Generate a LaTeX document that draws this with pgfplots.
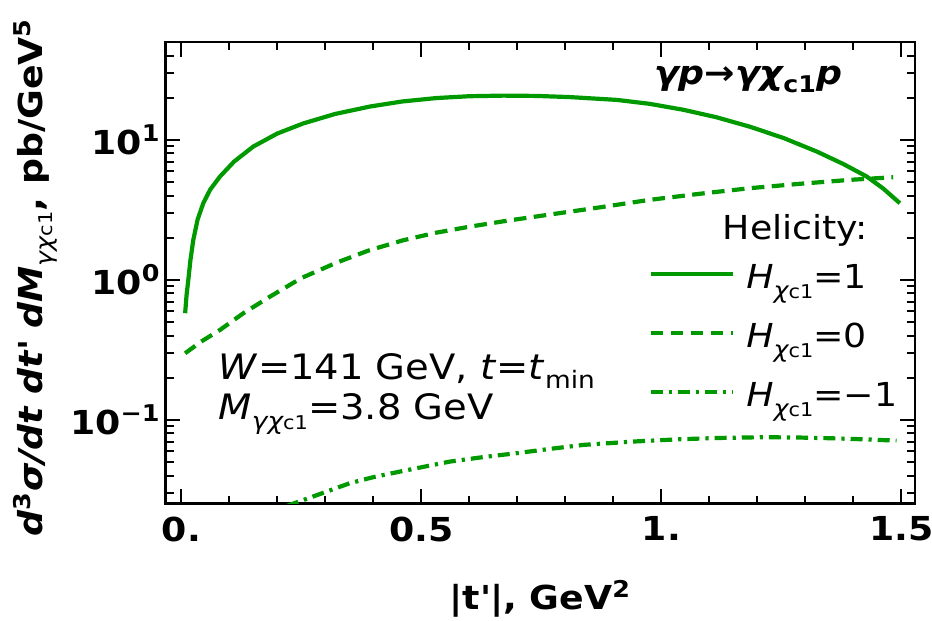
\documentclass[border=0pt]{standalone}
\usepackage{fontspec}
\setmainfont{DejaVu Sans}[FakeStretch=1.1,
  BoldFont={DejaVu Sans Bold}, ItalicFont={DejaVu Sans Oblique},
  BoldItalicFont={DejaVu Sans Bold Oblique}]
\usepackage{pgfplots}
\pgfplotsset{compat=1.18}
\definecolor{hgreen}{HTML}{009A00}
\newcommand{\fs}[1]{\fontsize{#1}{#1}\selectfont}
% chi_c1 as a lowered subscript
\newcommand{\chisub}{\raisebox{-0.3em}{\fs{11.5}\itshape χ\fs{9.5}\upshape c1}}

\begin{document}
\begin{tikzpicture}
\begin{axis}[
  name=ax,
  scale only axis, width=374.65pt, height=230.85pt,
  ymode=log, xmin=-0.0325, xmax=1.5285, ymin=0.0252, ymax=50,
  xtick={0,0.5,1,1.5}, xticklabels={0.,0.5,1.,1.5},
  minor x tick num=4,
  ytick={0.1,1,10},
  yticklabels={10\textsuperscript{−1},10\textsuperscript{0},10\textsuperscript{1}},
  minor ytick={0.03,0.04,0.05,0.06,0.07,0.08,0.09,0.2,0.3,0.4,0.5,0.6,0.7,0.8,0.9,2,3,4,5,6,7,8,9,20,30,40},
  tick align=inside, tick pos=both,
  major tick length=7.3pt, minor tick length=4pt,
  every tick/.style={black, line width=1pt},
  axis line style={line width=1.3pt},
  ticklabel style={font=\fs{16.5}\bfseries},
  xticklabel style={yshift=-3pt},
  yticklabel style={xshift=1pt},
  xlabel={|t\textquotesingle|, GeV\textsuperscript{2}},
  xlabel style={at={(rel axis cs:0.5,0)}, anchor=base, yshift=-53pt, font=\fs{16.5}\bfseries},
  ylabel={{\bfseries\itshape d\textsuperscript{\upshape 3}σ/dt dt\textquotesingle\ dM}\raisebox{-0.3em}{\fs{11.5}\itshape γχ\fs{9.5}\upshape c1}{\bfseries, pb/GeV\textsuperscript{5}}},
  ylabel style={at={(axis description cs:-0.1639,0.49)}, anchor=base, rotate=0, font=\fs{16.5}},
  legend style={draw=none, fill=none, at={(rel axis cs:0.6437,0.519)}, anchor=north west,
    inner sep=0pt, row sep=13.5pt, column sep=5.9pt, font=\fs{16.5},
    nodes={inner sep=0pt, text height=12pt, text depth=4pt}, cells={anchor=west}},
  legend image code/.code={\draw[#1] (0pt,3.2pt) -- (41pt,3.2pt);},
]
\addplot[hgreen, line width=2.1pt] coordinates {
(0.008,0.578) (0.011,0.78) (0.0146,1.0) (0.019,1.38) (0.025,1.93) (0.034,2.7)
(0.0458,3.53) (0.06,4.4) (0.0806,5.47) (0.11,7.0) (0.15,8.96) (0.2,11.1)
(0.254,13.1) (0.32,15.3) (0.393,17.3) (0.46,18.8) (0.532,19.9) (0.6,20.5)
(0.671,20.7) (0.74,20.6) (0.81,20.2) (0.907,19.3) (0.975,18.1) (1.046,16.4)
(1.115,14.5) (1.185,12.4) (1.255,10.3) (1.324,8.25) (1.38,6.7) (1.428,5.47)
(1.462,4.5) (1.497,3.53)};
\addlegendentry{\textit{H}\chisub=1}
\addplot[hgreen, line width=2.1pt, dash pattern=on 6.3pt off 3.7pt] coordinates {
(0.008,0.299) (0.04,0.36) (0.081,0.44) (0.13,0.58) (0.185,0.76) (0.25,1.03)
(0.324,1.33) (0.39,1.62) (0.4625,1.92) (0.53,2.17) (0.601,2.40) (0.68,2.65)
(0.768,2.93) (0.86,3.25) (0.976,3.73) (1.08,4.12) (1.185,4.52) (1.29,4.86)
(1.393,5.18) (1.483,5.41)};
\addlegendentry{\textit{H}\chisub=0}
\addplot[hgreen, line width=2.1pt, dash pattern=on 6pt off 3pt on 1.6pt off 3pt] coordinates {
(0.22,0.0243) (0.265,0.0276) (0.31,0.0314) (0.351,0.0353) (0.40,0.0390)
(0.455,0.0427) (0.51,0.0466) (0.56,0.0504) (0.63,0.0543) (0.698,0.0578)
(0.77,0.0622) (0.838,0.0663) (0.94,0.0700) (1.04,0.0728) (1.12,0.0743)
(1.21,0.0752) (1.28,0.0749) (1.35,0.0740) (1.42,0.0727) (1.49,0.0711)};
\addlegendentry{\textit{H}\chisub=−1}
\node[anchor=base east, font=\fs{16.5}\bfseries\itshape] at (rel axis cs:0.912,0.908)
  {γp→γχ\raisebox{-0.25em}{\fs{11.5}\upshape c1}p};
\node[anchor=base east, font=\fs{16.5}] at (rel axis cs:0.9466,0.573) {Helicity:};
\node[anchor=base west, font=\fs{17.5}] at (rel axis cs:0.0614,0.268)
  {\textit{W}=141 GeV, \textit{t}=\textit{t}\raisebox{-0.25em}{\fs{12}min}};
\node[anchor=base west, font=\fs{17.5}] at (rel axis cs:0.0614,0.183)
  {\textit{M}\raisebox{-0.3em}{\fs{12}\itshape γχ\fs{9.5}\upshape c1}=3.8 GeV};
\end{axis}
\pgfresetboundingbox
\path ([xshift=-82.85pt,yshift=-58.65pt]ax.south west) rectangle ([xshift=8.5pt,yshift=21pt]ax.north east);
\end{tikzpicture}
\end{document}
